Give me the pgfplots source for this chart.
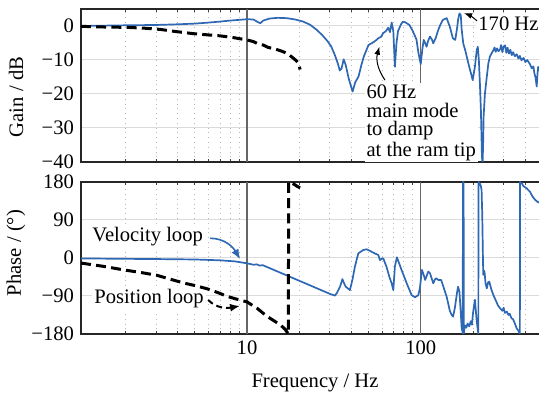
\documentclass[border=0pt]{standalone}
\usepackage{fontspec}
\setmainfont{Liberation Serif}
\usepackage{pgfplots}
\pgfplotsset{compat=1.18}
\usetikzlibrary{arrows.meta}
\definecolor{velblue}{RGB}{46,104,180}
\newcommand{\ff}{\fontsize{10.3}{12}\selectfont}
\tikzset{
  velline/.style={velblue, line width=0.85pt, line join=round},
  posline/.style={black, line width=1.5pt, dash pattern=on 5pt off 2.6pt},
}
\begin{document}
\begin{tikzpicture}
%------------------ GAIN ------------------
\begin{axis}[name=gain, at={(0,0)}, anchor=north west, height=76.5pt,
  scale only axis, width=235pt, xmode=log, xmin=1.107, xmax=562,
  xtick={10,100}, xticklabels={,,},
  minor xtick={2,3,4,5,6,7,8,9,20,30,40,50,60,70,80,90,200,300,400,500},
  xminorgrids, minor grid style={gray!55, dotted, line width=0.5pt},
  ymajorgrids, major grid style={gray!28, line width=0.5pt},
  tick align=inside, major tick length=3pt, minor tick length=1.6pt,
  axis line style={black!85, line width=0.6pt},
  xtick style={black!75, line width=0.45pt},
  ytick style={draw=none},
  tick label style={font=\ff},
  ymin=-40, ymax=5, ytick={-40,-30,-20,-10,0},
  yticklabels={−40,−30,−20,−10,0}]
\draw[black!60, line width=0.55pt] (10,-40) -- (10,5);
\draw[black!60, line width=0.55pt] (100,-40) -- (100,5);
\node[anchor=north west, fill=white, inner sep=1pt, align=left,
  font=\fontsize{10.3}{9.2}\selectfont] at (47.2,-16.7)
  {60 Hz\\main mode\\to damp\\at the ram tip};
\node[anchor=base west, fill=white, inner sep=1pt, font=\ff] at (208,-1.2) {170 Hz};
\addplot[velline] coordinates {
(1.107,0.0) (1.5,0.1) (2,0.2) (3,0.3) (4,0.5) (5,0.7) (6,1.0) (7,1.3) (8,1.6)
(9,1.8) (10,2.0) (10.9,1.9) (11.5,1.2) (11.9,0.8) (12.4,1.6) (13.5,2.2) (15,2.4)
(17,2.3) (19,1.9) (21,1.3) (23,0.4) (25,-1.0) (27,-2.6) (29,-4.4) (30.5,-6.0)
(32,-8.5) (33.3,-11.0) (34.2,-13.1) (35,-12.5) (36,-9.8) (37,-11.5) (38.5,-15.5)
(40.5,-19.3) (42,-16.5) (43.8,-14.9) (45.5,-11.5) (47,-9.0) (50,-5.6) (52.5,-5.0)
(55,-4.3) (57,-3.6) (59,-3.2) (60.8,-2.1) (63,-1.5) (65,-0.5) (66.5,-1.8) (68,1.0)
(69.5,-1.5) (71,-12.0) (72.5,-5.0) (74,-1.5) (77,0.5) (79,1.3) (82,1.0) (86,0.3)
(90,-1.5) (94.5,-4.0) (97,-8.0) (100,-11.2) (102,-7.0) (104,-4.1) (106,-5.0)
(108,-6.1) (110,-4.5) (113,-3.1) (116,-4.0) (118,-5.1) (122,-3.5) (126,-1.2)
(130,0.5) (134,1.8) (141,2.3) (147,-0.2) (153,-3.6) (158,-4.1) (162,-0.5)
(164,1.8) (167,3.7) (170,3.2) (172,-1.0) (175.6,-5.1) (180,-7.0) (184,-9.0)
(188,-11.0) (192,-12.9) (196,-14.5) (199,-15.9) (202,-14.0) (205,-12.0)
(210,-7.1) (213,-6.1) (216,-10.0) (219,-16.9) (222,-25.0) (225,-38.4) (227,-40.5)
(229,-33.0) (230,-26.7) (234,-20.0) (240,-14.9) (245,-11.0) (250,-9.0) (256,-8.0)
(262,-7.1) (266,-6.3) (270,-7.6) (275,-6.6) (280,-7.4) (286,-6.9) (290,-5.6)
(295,-7.7) (300,-6.0) (306,-5.7) (311,-7.9) (316,-6.4) (322,-8.1) (328,-7.0)
(334,-8.6) (340,-7.7) (348,-8.9) (357,-8.3) (365,-9.6) (372,-8.8) (380,-10.1)
(391,-9.4) (400,-10.6) (410,-10.0) (425,-11.2) (435,-12.4) (445,-11.9)
(451,-13.9) (458,-15.2) (465,-17.8) (470,-14.0) (474,-12.0) (480,-13.0)
(500,-12.5) (530,-13.5) (560,-14.0)
};
\addplot[posline] coordinates {
(1.107,-0.1) (1.5,-0.3) (2,-0.4) (2.5,-0.6) (3.16,-1.0) (3.7,-1.5) (4.3,-1.9)
(5,-2.3) (5.9,-2.6) (7,-2.9) (8.3,-3.4) (10,-4.1) (10.9,-4.6) (11.6,-5.3)
(12.4,-5.6) (13.2,-6.3) (14.1,-6.6) (15,-7.0) (16.2,-7.6) (17.2,-8.2)
(18.5,-9.5) (19.2,-10.2) (19.8,-11.0) (20.2,-12.8)
};
\draw[-{Latex[length=4pt,width=3pt]}, line width=0.5pt] (62.2,-15.9) to[bend left=25] (57.8,-6.1);
\draw[-{Latex[length=4pt,width=3pt]}, line width=0.5pt] (211,1.5) to[bend right=10] (177.5,3.8);
\end{axis}
%------------------ PHASE ------------------
\begin{axis}[name=phase, at={(0,-86.5pt)}, anchor=north west, height=76pt,
  scale only axis, width=235pt, xmode=log, xmin=1.107, xmax=562,
  xtick={10,100}, xticklabels={10,100},
  minor xtick={2,3,4,5,6,7,8,9,20,30,40,50,60,70,80,90,200,300,400,500},
  xminorgrids, minor grid style={gray!55, dotted, line width=0.5pt},
  ymajorgrids, major grid style={gray!28, line width=0.5pt},
  tick align=inside, major tick length=3pt, minor tick length=1.6pt,
  axis line style={black!85, line width=0.6pt},
  xtick style={black!75, line width=0.45pt},
  ytick style={draw=none},
  tick label style={font=\ff},
  ymin=-180, ymax=180, ytick={-180,-90,0,90,180},
  yticklabels={−180,−90,0,90,180}]
\draw[black!60, line width=0.55pt] (10,-180) -- (10,180);
\draw[black!60, line width=0.55pt] (100,-180) -- (100,180);
\node[anchor=base west, fill=white, inner sep=1pt, font=\ff] at (1.248,38.6) {Velocity loop};
\node[anchor=base west, fill=white, inner sep=1pt, font=\ff] at (1.28,-108.9) {Position loop};
\addplot[velline] coordinates {
(1.107,-1) (2,-2) (3,-2.5) (5,-3.5) (7,-5.5) (8.5,-8) (10,-12.6) (10.9,-16)
(11.4,-15) (11.8,-18) (12.3,-17) (13.5,-24) (16,-37) (20,-54) (25,-71) (30,-85)
(32.1,-89) (33,-82) (34.3,-68) (35.4,-50) (36.2,-60) (37,-68) (39.1,-76)
(40.5,-50) (41.8,-20) (43.7,11) (46.7,19) (48.8,20.6) (51,17) (53.3,12.6)
(57,7) (58.2,-5) (59.5,-2) (60.8,-0.7) (63.5,-20.6) (66,-45) (68,-60) (69.5,-76)
(71,-20) (72.9,1.6) (75,-12) (77.5,-28) (83,-60) (88.6,-88) (92.6,-93)
(96.8,-88) (99,-70) (101.5,-28) (104,-40) (106,-52) (110.5,-32) (113,-36)
(118,-60) (121,-50) (123,-48) (126,-52) (131,-52) (134,-64) (141,-92)
(147,-125) (150.7,-135) (153.5,-139) (157,-119) (162,-80) (164,-68) (167,-80)
(170,-130) (172,-166) (174,-175) (174.6,-180) (174.8,180) (176.5,180)
(176.8,-180) (178,-170) (180,-160) (183,-165) (186,-155) (190,-162) (194,-150)
(197,-158) (200,-130) (205,-99) (208,-130) (210,-150) (213,-170) (214.5,-180)
(215,180) (219,176) (222,170) (224,160) (226,100) (228,0) (229,-40) (231,-30)
(233,-34) (236,-60) (240,-72) (244,-58) (248,-56) (255,-75) (262,-88) (270,-100)
(278,-112) (286,-119) (295,-125) (300,-118) (305,-130) (313,-127) (320,-135)
(325,-132) (333,-143) (340,-145) (348,-155) (357,-167) (365,-172) (372,-180)
(373,180) (378,178) (383,176) (390,170) (398,168) (407,165) (425,157)
(441,145) (455,138) (470,133) (500,128) (560,120)
};
\addplot[posline] coordinates {
(1.107,-12) (1.5,-20) (1.94,-28) (2.5,-35) (3.03,-41) (3.6,-50) (4.3,-59)
(5.1,-66) (5.9,-73) (6.8,-82) (7.7,-91) (8.8,-98) (10,-104) (11.5,-120)
(13,-138) (14.2,-148) (15.5,-158) (16.5,-168) (17.3,-180) (17.35,180)
(17.8,178) (18.6,175) (19.4,170) (20.2,166)
};
\draw[velblue, line width=0.8pt, -{Latex[length=5pt,width=4pt]}] (6.12,46.7) to[out=0, in=120] (9.12,-3);
\draw[black, line width=1pt, dash pattern=on 3pt off 2pt, -{Latex[length=5pt,width=4pt]}] (5.97,-99.4) to[out=-45, in=190] (9.12,-113.6);
\end{axis}
\node[rotate=90, font=\ff] at ([xshift=-32.5pt, yshift=-44pt]gain.north west) {Gain / dB};
\node[rotate=90, font=\ff] at ([xshift=-32.5pt, yshift=-35.5pt]phase.north west) {Phase / (°)};
\node[anchor=base, font=\ff] at ([xshift=117pt, yshift=-27pt]phase.south west) {Frequency / Hz};
\pgfresetboundingbox
\path[use as bounding box] (-40.5pt,4.5pt) rectangle (229pt,-195pt);
\end{tikzpicture}
\end{document}
